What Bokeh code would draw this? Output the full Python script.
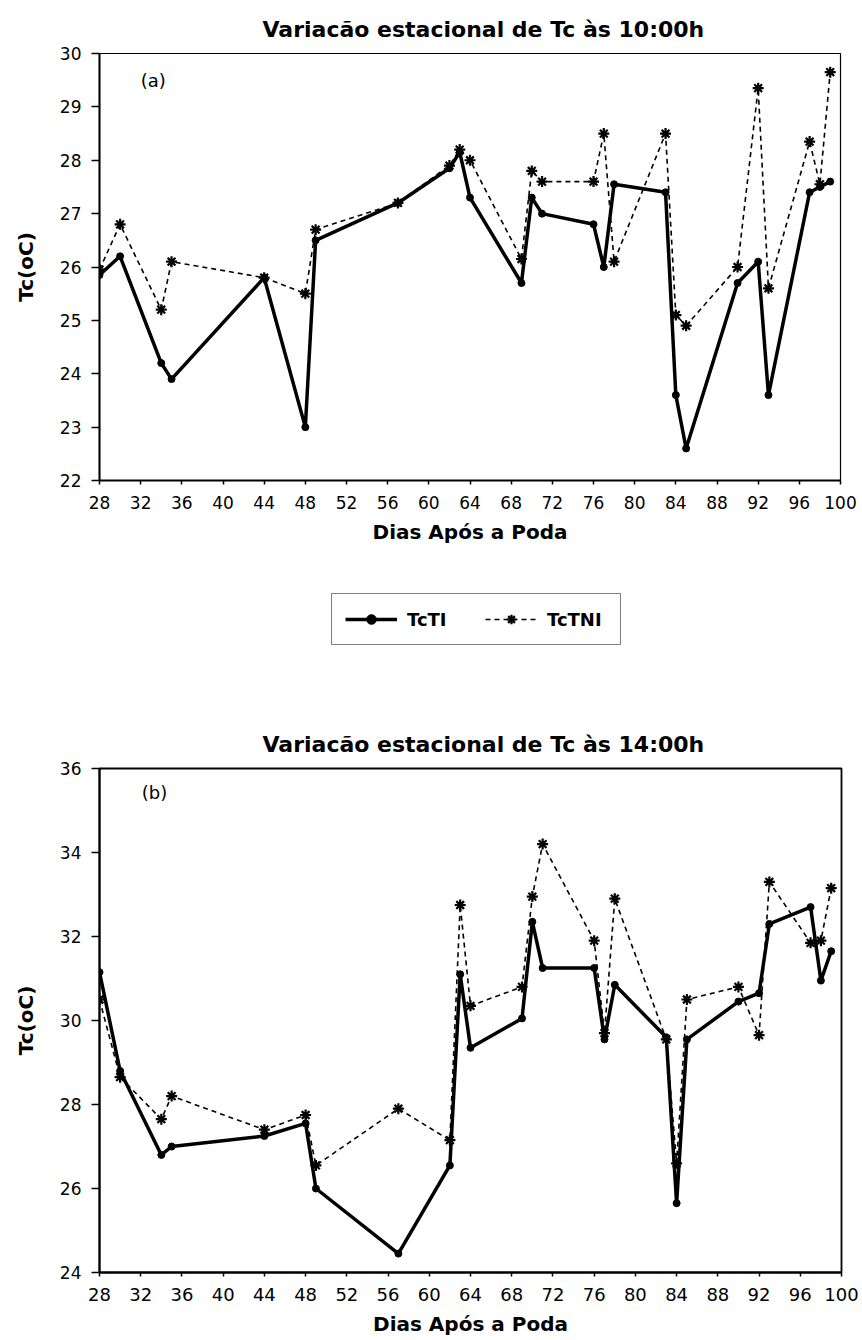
from bokeh.plotting import figure
from bokeh.models import FixedTicker, Legend, LegendItem, Label, ColumnDataSource
from bokeh.layouts import column
from bokeh.embed import file_html
from bokeh.resources import INLINE

# ---------------- data ----------------
days = [28, 30, 34, 35, 44, 48, 49, 57, 62, 63, 64, 69, 70, 71, 76, 77, 78,
        83, 84, 85, 90, 92, 93, 97, 98, 99]

tcti_10h = [25.85, 26.2, 24.2, 23.9, 25.8, 23.0, 26.5, 27.2, 27.85, 28.15, 27.3,
            25.7, 27.3, 27.0, 26.8, 26.0, 27.55, 27.4, 23.6, 22.6, 25.7, 26.1,
            23.6, 27.4, 27.5, 27.6]
tctni_10h = [25.95, 26.8, 25.2, 26.1, 25.8, 25.5, 26.7, 27.2, 27.9, 28.2, 28.0,
             26.15, 27.8, 27.6, 27.6, 28.5, 26.1, 28.5, 25.1, 24.9, 26.0, 29.35,
             25.6, 28.35, 27.55, 29.65]

tcti_14h = [31.15, 28.8, 26.8, 27.0, 27.25, 27.55, 26.0, 24.45, 26.55, 31.1, 29.35,
            30.05, 32.35, 31.25, 31.25, 29.55, 30.85, 29.6, 25.65, 29.55, 30.45,
            30.65, 32.3, 32.7, 30.95, 31.65]
tctni_14h = [30.5, 28.65, 27.65, 28.2, 27.4, 27.75, 26.55, 27.9, 27.15, 32.75, 30.35,
             30.8, 32.95, 34.2, 31.9, 29.7, 32.9, 29.55, 26.6, 30.5, 30.8, 29.65,
             33.3, 31.85, 31.9, 33.15]

x_ticks = [28, 32, 36, 40, 44, 48, 52, 56, 60, 64, 68, 72, 76, 80, 84, 88, 92, 96, 100]
y_ticks_10h = [22, 23, 24, 25, 26, 27, 28, 29, 30]
y_ticks_14h = [24, 26, 28, 30, 32, 34, 36]

title_10h = "Variacão estacional de Tc às 10:00h"
title_14h = "Variacão estacional de Tc às 14:00h"
x_label = "Dias Após a Poda"
y_label = "Tc(oC)"
series_names = ["TcTI", "TcTNI"]

BOLD_FONT = "DejaVu Sans"
TICK_FONT = "DejaVu Sans"
PAGE_W = 862


def add_series(p, src):
    l2 = p.line("x", "tni", source=src, line_color="black", line_width=1.6,
                line_dash="5 4")
    s2 = p.scatter("x", "tni", source=src, marker="asterisk", size=11,
                   line_color="black", line_width=2.2)
    l1 = p.line("x", "ti", source=src, line_color="black", line_width=3.5)
    s1 = p.scatter("x", "ti", source=src, marker="circle", size=7,
                   fill_color="black", line_color="black")
    return l1, s1, l2, s2


def make_fig(title, tcti, tctni, yticks, frame_w, frame_h, left, top, bottom,
             panel_tag, tag_x, tag_y, xtick_size, title_offset, outline_w):
    p = figure(width=PAGE_W, frame_width=frame_w, frame_height=frame_h,
               x_range=(28, 100), y_range=(yticks[0], yticks[-1]),
               output_backend="svg", toolbar_location=None,
               min_border_left=left, min_border_top=top,
               min_border_bottom=bottom,
               min_border_right=PAGE_W - left - frame_w)
    p.title.text = title
    p.title.align = "left"
    p.title.offset = title_offset
    p.title.text_font = BOLD_FONT
    p.title.text_font_size = "22px"
    p.title.text_font_style = "bold"
    p.title.text_color = "black"
    p.title.standoff = 24

    p.xgrid.visible = False
    p.ygrid.visible = False
    p.outline_line_color = "black"
    p.outline_line_width = outline_w
    p.background_fill_color = "white"
    p.border_fill_color = "white"

    p.xaxis.ticker = FixedTicker(ticks=x_ticks)
    p.yaxis.ticker = FixedTicker(ticks=yticks)
    for ax in (p.xaxis[0], p.yaxis[0]):
        ax.axis_line_width = 2
        ax.axis_line_color = "black"
        ax.major_tick_line_color = "black"
        ax.major_tick_line_width = 1.5
        ax.minor_tick_line_color = None
        ax.major_tick_in = 0
        ax.major_label_text_font = TICK_FONT
        ax.major_label_text_color = "black"
        ax.axis_label_text_font = BOLD_FONT
        ax.axis_label_text_font_style = "bold"
        ax.axis_label_text_font_size = "20px"
        ax.axis_label_text_color = "black"
    p.xaxis.major_tick_out = 4
    p.yaxis.major_tick_out = 8
    p.xaxis.major_label_text_font_size = xtick_size
    p.yaxis.major_label_text_font_size = "17px"
    p.xaxis.major_label_standoff = 11
    p.yaxis.major_label_standoff = 10
    p.xaxis.axis_label = x_label
    p.yaxis.axis_label = y_label
    p.xaxis.axis_label_standoff = 8
    p.yaxis.axis_label_standoff = 19

    src = ColumnDataSource(dict(x=days, ti=tcti, tni=tctni))
    add_series(p, src)

    p.add_layout(Label(x=tag_x, y=tag_y, text=panel_tag, text_baseline="middle",
                       text_font=TICK_FONT, text_font_size="18px",
                       text_color="black"))
    return p, src


# top chart: frame x 96..837, y 53..480 ; figure height 560
fig_a, src_a = make_fig(title_10h, tcti_10h, tctni_10h, y_ticks_10h,
                        frame_w=741, frame_h=427, left=96, top=53, bottom=80,
                        panel_tag="(a)", tag_x=32.0, tag_y=29.5,
                        xtick_size="17px", title_offset=163, outline_w=1.2)

# legend strip (page y 560..700); its glyph renderers sit outside its ranges,
# so only the legend itself is drawn
leg_fig = figure(width=PAGE_W, height=140, x_range=(0, 1), y_range=(0, 1),
                 output_backend="svg", toolbar_location=None,
                 x_axis_location=None, y_axis_location=None, min_border=0)
leg_fig.xgrid.visible = False
leg_fig.ygrid.visible = False
leg_fig.outline_line_color = None
leg_fig.background_fill_color = "white"
leg_fig.border_fill_color = "white"
lr = add_series(leg_fig, src_a)

legend = Legend(items=[LegendItem(label=series_names[0], renderers=[lr[0], lr[1]]),
                       LegendItem(label=series_names[1], renderers=[lr[2], lr[3]])],
                orientation="horizontal", location=(232, 55))
legend.border_line_color = "black"
legend.border_line_width = 1.5
legend.background_fill_color = "white"
legend.background_fill_alpha = 1.0
legend.padding = 13
legend.margin = 0
legend.glyph_width = 52
legend.glyph_height = 24
legend.label_standoff = 10
legend.label_width = 60
legend.spacing = 18
legend.label_text_font = BOLD_FONT
legend.label_text_font_style = "bold"
legend.label_text_font_size = "18px"
legend.label_text_color = "black"
leg_fig.add_layout(legend)

# bottom chart: frame x 99..841, y 768..1272 ; figure starts at 700
fig_b, src_b = make_fig(title_14h, tcti_14h, tctni_14h, y_ticks_14h,
                        frame_w=742, frame_h=504, left=99, top=68, bottom=66,
                        panel_tag="(b)", tag_x=32.1, tag_y=35.44,
                        xtick_size="18px", title_offset=163, outline_w=1.8)

layout = column(fig_a, leg_fig, fig_b, spacing=0)

with open("out.html", "w") as f:
    f.write(file_html(layout, INLINE))
